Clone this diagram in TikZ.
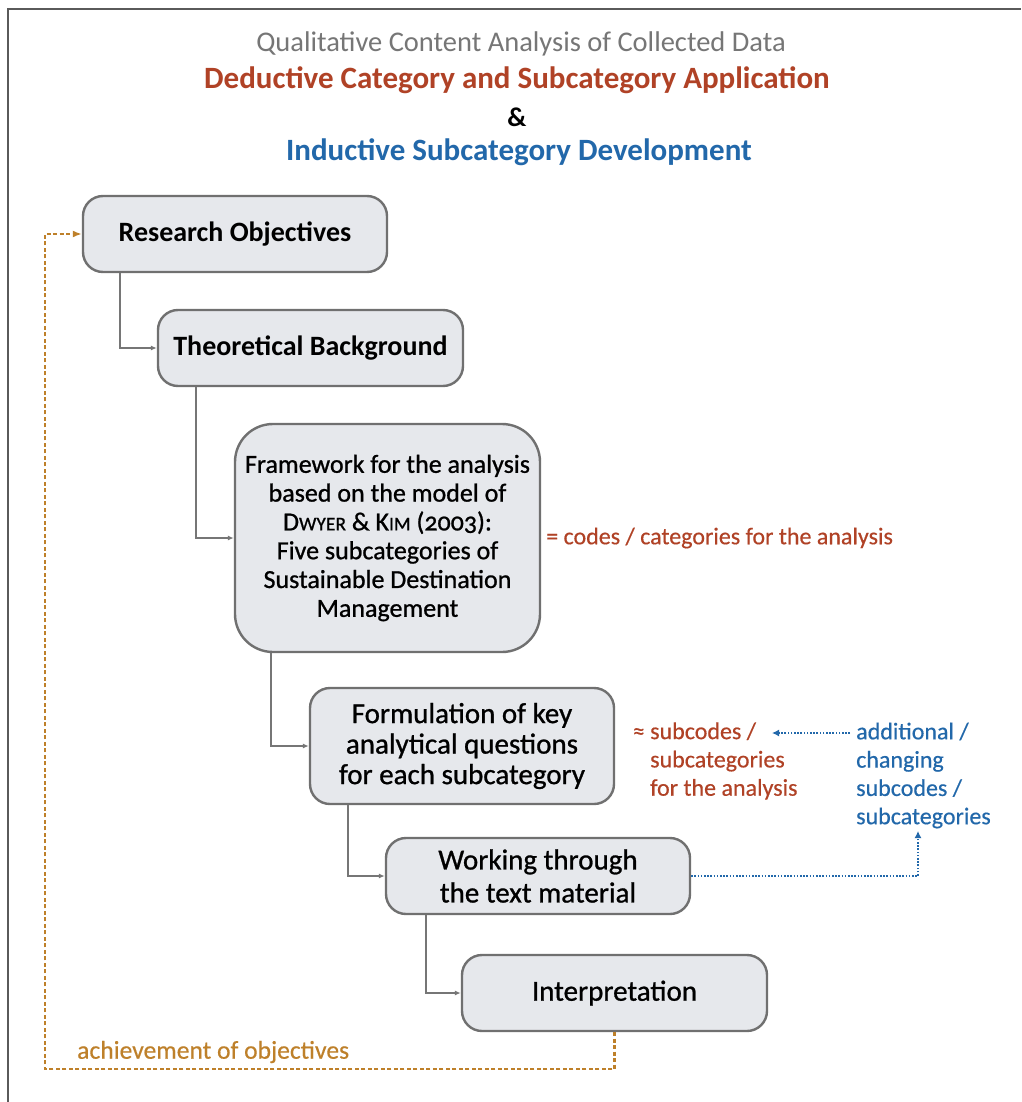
\documentclass[tikz,border=0pt]{standalone}
\usepackage{fontspec}
\setmainfont{Carlito}
\newfontfamily\semibold{Carlito}[FakeBold=0.9]
\newfontfamily\medium{Carlito}[FakeBold=0.4]
\usetikzlibrary{arrows.meta,calc}
\definecolor{titlegray}{RGB}{118,118,118}
\definecolor{dedred}{RGB}{176,66,38}
\definecolor{indblue}{RGB}{34,104,170}
\definecolor{loopor}{RGB}{190,128,42}
\definecolor{boxfill}{RGB}{230,232,236}
\definecolor{boxline}{RGB}{112,112,112}
\definecolor{connline}{RGB}{118,118,118}
\definecolor{framecol}{RGB}{90,90,90}
\newcommand{\headfont}{\fontsize{28}{32}\selectfont}
\newcommand{\boldhead}{\fontsize{31}{34}\selectfont\bfseries}
\newcommand{\bignode}{\fontsize{28}{31}\selectfont\bfseries}
\newcommand{\stepfont}{\semibold\fontsize{29}{30.5}\selectfont}
\newcommand{\frameworkfont}{\semibold\fontsize{26}{28.8}\selectfont}
\newcommand{\labfont}{\medium\fontsize{24}{28.3}\selectfont}
\newcommand{\smcap}[1]{{\fontsize{19.5}{28.8}\selectfont #1}}
\tikzset{
  stepbox/.style={draw=boxline, fill=boxfill, line width=2.4pt, rounded corners=20pt,
    align=center, font=\stepfont, text=black, inner sep=4pt},
  conn/.style={draw=connline, line width=2.2pt, -{Latex[length=6pt,width=5pt]}},
  backloop/.style={draw=loopor, line width=2.2pt, dash pattern=on 4pt off 2.5pt,
    -{Latex[length=9pt,width=7pt]}},
  blueloop/.style={draw=indblue, line width=2.4pt, dash pattern=on 1.6pt off 1.6pt,
    -{Latex[length=7pt,width=7pt]}},
  lab/.style={font=\labfont, align=left, inner sep=0pt},
  ttl/.style={font=\headfont, inner sep=0pt}
}
\begin{document}
\begin{tikzpicture}[x=1pt,y=-1pt]
\useasboundingbox[fill=white] (0,0) rectangle (1021,1102);
% page frame
\draw[framecol, line width=1.5pt] (8,1102) -- (8,9) -- (1021,9);

% heading
\node[ttl, text=titlegray, font=\fontsize{28.5}{32}\selectfont] (h1) at (521,44) {Qualitative Content Analysis of Collected Data};
\node[ttl, text=dedred, font=\boldhead] (h2) at (517,80) {Deductive Category and Subcategory Application};
\node[ttl, font=\fontsize{27}{32}\selectfont\bfseries] (h3) at (517,117) {\&};
\node[ttl, text=indblue, font=\boldhead] (h4) at (519,152) {Inductive Subcategory Development};

% process steps
\node[stepbox, minimum width=304pt, minimum height=76pt, font=\bignode] (ro) at (235,234) {Research Objectives};
\node[stepbox, minimum width=305pt, minimum height=76pt, font=\bignode] (tb) at (310.5,348) {Theoretical Background};
\node[stepbox, minimum width=305pt, minimum height=228pt, rounded corners=38pt, font=\frameworkfont] (fw) at (387.5,538)
  {Framework for the analysis\\based on the model of\\D\smcap{WYER} \& K\smcap{IM} ({\addfontfeatures{Numbers=OldStyle}2003}):\\Five subcategories of\\Sustainable Destination\\Management};
\node[stepbox, minimum width=304pt, minimum height=116pt] (fq) at (462,746)
  {Formulation of key\\analytical questions\\for each subcategory};
\node[stepbox, minimum width=304pt, minimum height=76pt, font=\semibold\fontsize{29}{33}\selectfont] (wt) at (538,876)
  {Working through\\the text material};
\node[stepbox, minimum width=305pt, minimum height=76pt] (ip) at (614.5,993) {Interpretation};

% step-to-step connectors
\draw[conn] ($(ro.south west)+(38,0)$) |- (tb.west);
\draw[conn] ($(tb.south west)+(39,0)$) |- (fw.west);
\draw[conn] ($(fw.south west)+(37,0)$) |- (fq.west);
\draw[conn] ($(fq.south west)+(39,0)$) |- (wt.west);
\draw[conn] ($(wt.south west)+(41,0)$) |- (ip.west);

% annotations
\node[lab, text=dedred, anchor=west] (cc) at (546,538) {= codes / categories for the analysis};
\node[lab, text=dedred, anchor=west] (sc) at (650,761) {\llap{≈ }subcodes /\\subcategories\\for the analysis};
\node[lab, text=indblue, anchor=west] (ac) at (856,775.5) {additional /\\changing\\subcodes /\\subcategories};
\node[lab, text=loopor, anchor=west, font=\medium\fontsize{25.6}{30}\selectfont] (ao) at (77,1052) {achievement of objectives};

% inductive feedback
\coordinate (acin) at (850,733);
\coordinate (scin) at (772,733);
\coordinate (acbot) at (918,831);
\draw[blueloop] (acin) -- (scin);
\draw[blueloop] (wt.east) -| (acbot);

% loop back to the objectives
\coordinate (lowcorner) at (45,1069);
\draw[backloop] (ip.south) |- (lowcorner) |- (ro.west);
\end{tikzpicture}
\end{document}
